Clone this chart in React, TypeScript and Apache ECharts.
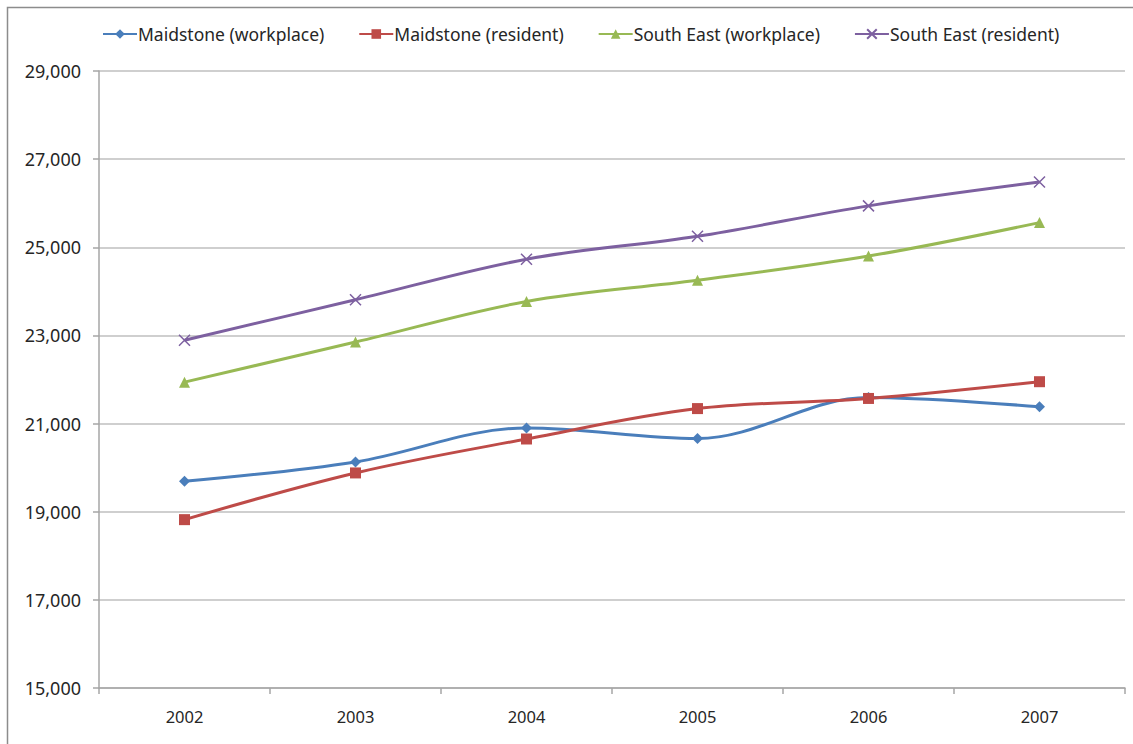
import React, { useEffect, useRef } from "react";
import * as echarts from "echarts";

// Years on the category axis
const years = ["2002", "2003", "2004", "2005", "2006", "2007"];

// Median earnings by series
const maidstoneWorkplace = [19690, 20130, 20900, 20660, 21590, 21380];
const maidstoneResident = [18820, 19880, 20650, 21340, 21570, 21950];
const southEastWorkplace = [21940, 22850, 23770, 24250, 24800, 25560];
const southEastResident = [22890, 23810, 24730, 25250, 25940, 26480];

const seriesNames = [
  "Maidstone (workplace)",
  "Maidstone (resident)",
  "South East (workplace)",
  "South East (resident)",
];
const seriesColors = ["#4A7EBB", "#BE4B48", "#98B954", "#7D60A0"];

const FONT = "'Noto Sans', sans-serif";
const CROSS = "path://M0 0L10 10M10 0L0 10";

export default function App() {
  const ref = useRef<HTMLDivElement>(null);

  useEffect(() => {
    if (!ref.current) return;
    const chart = echarts.init(ref.current, undefined, { renderer: "svg" });

    const data = [maidstoneWorkplace, maidstoneResident, southEastWorkplace, southEastResident];
    const symbols = ["diamond", "rect", "triangle", CROSS];
    const sizes = [11, 11, 11, 11];

    chart.setOption({
      animation: false,
      backgroundColor: "#ffffff",
      textStyle: { fontFamily: FONT },
      graphic: [
        {
          type: "rect",
          shape: { x: 7.5, y: 7.5, width: 1140, height: 760 },
          style: { fill: "none", stroke: "#8c8c8c", lineWidth: 1.5 },
          silent: true,
          z: 0,
        },
      ],
      legend: {
        left: 97,
        top: 20,
        itemWidth: 34,
        itemHeight: 12,
        itemGap: 34,
        textStyle: { fontFamily: FONT, fontSize: 17.5, color: "#262626", padding: [0, 0, 0, -4] },
        data: seriesNames,
      },
      grid: { left: 99, right: 8, top: 71, bottom: 56, containLabel: false },
      xAxis: {
        type: "category",
        data: years,
        boundaryGap: true,
        axisLine: { lineStyle: { color: "#a6a6a6", width: 1.5 } },
        axisTick: { show: true, length: 6, lineStyle: { color: "#a6a6a6", width: 1.5 } },
        axisLabel: { fontFamily: FONT, fontSize: 16.5, color: "#262626", margin: 20 },
      },
      yAxis: {
        type: "value",
        min: 15000,
        max: 29000,
        interval: 2000,
        axisLine: { show: true, lineStyle: { color: "#a6a6a6", width: 1.5 } },
        axisTick: { show: true, length: 6, lineStyle: { color: "#a6a6a6", width: 1.5 } },
        splitLine: { show: true, lineStyle: { color: "#bfbfbf", width: 1.5 } },
        axisLabel: {
          fontFamily: FONT,
          fontSize: 18,
          color: "#262626",
          margin: 18,
          formatter: (v: number) => v.toLocaleString("en-GB"),
        },
      },
      series: seriesNames.map((name, i) => ({
        name,
        type: "line",
        data: data[i],
        smooth: 0.35,
        symbol: symbols[i],
        symbolSize: sizes[i],
        lineStyle: { color: seriesColors[i], width: 3 },
        itemStyle:
          i === 3
            ? { color: seriesColors[i], borderColor: seriesColors[i], borderWidth: 1.5 }
            : { color: seriesColors[i] },
      })),
    });

    return () => chart.dispose();
  }, []);

  return (
    <div
      ref={ref}
      style={{ position: "fixed", left: 0, top: 0, width: 1133, height: 744, background: "#fff" }}
    />
  );
}
